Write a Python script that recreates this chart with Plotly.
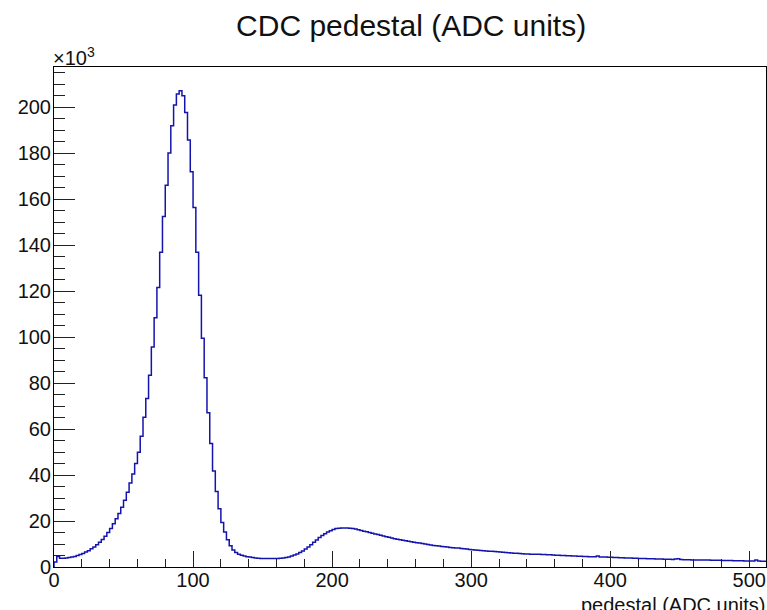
import numpy as np
import plotly.graph_objects as go

# ---- data (counts in thousands, 2-unit bins from 0 to 512) ----
bin_width = 2
x_min = 0
counts_k = [
    2.2, 4.6, 3.8, 3.8, 3.9, 4.1, 4.3, 4.6, 5.0, 5.4,
    5.9, 6.5, 7.1, 7.9, 8.7, 9.7, 10.8, 12.0, 13.4, 15.0,
    16.8, 18.8, 21.0, 23.3, 26.0, 29.0, 32.5, 36.5, 40.5, 45.0,
    49.9, 56.9, 65.2, 73.3, 83.4, 95.7, 108.5, 121.6, 137.0, 152.5,
    166.1, 180.1, 192.0, 201.0, 205.8, 207.2, 205.0, 197.8, 185.8, 172.0,
    156.4, 137.0, 118.2, 99.5, 82.4, 67.1, 53.7, 41.8, 32.9, 25.3,
    19.4, 15.2, 11.9, 9.3, 7.4, 6.3, 5.6, 5.1, 4.8, 4.5,
    4.3, 4.1, 3.9, 3.8, 3.7, 3.7, 3.7, 3.7, 3.7, 3.7,
    3.7, 3.8, 3.9, 4.1, 4.4, 4.8, 5.2, 5.7, 6.3, 7.0,
    7.8, 8.7, 9.7, 10.8, 11.8, 12.8, 13.7, 14.5, 15.2, 15.8,
    16.3, 16.7, 16.9, 17.0, 17.0, 17.0, 16.9, 16.7, 16.5, 16.2,
    15.9, 15.6, 15.3, 15.0, 14.7, 14.4, 14.1, 13.8, 13.5, 13.2,
    12.9, 12.6, 12.3, 12.1, 11.9, 11.6, 11.4, 11.2, 11.0, 10.8,
    10.6, 10.4, 10.2, 10.0, 9.8, 9.6, 9.4, 9.2, 9.1, 8.9,
    8.8, 8.7, 8.5, 8.4, 8.3, 8.3, 8.0, 7.9, 7.8, 7.6,
    7.5, 7.4, 7.3, 7.2, 7.1, 7.0, 6.9, 6.8, 6.7, 6.6,
    6.5, 6.4, 6.3, 6.2, 6.1, 6.0, 6.0, 5.9, 5.8, 5.7,
    5.7, 5.6, 5.6, 5.5, 5.5, 5.4, 5.4, 5.3, 5.3, 5.2,
    5.1, 5.1, 5.0, 5.0, 4.9, 4.9, 4.8, 4.8, 4.7, 4.7,
    4.6, 4.6, 4.5, 4.5, 4.5, 4.8, 4.4, 4.3, 4.3, 4.2,
    4.2, 4.1, 4.1, 4.0, 4.0, 3.9, 3.9, 3.9, 3.8, 3.8,
    3.7, 3.7, 3.7, 3.6, 3.6, 3.6, 3.5, 3.5, 3.5, 3.4,
    3.4, 3.4, 3.3, 3.5, 3.6, 3.3, 3.2, 3.2, 3.2, 3.1,
    3.1, 3.1, 3.0, 3.0, 3.0, 3.0, 2.9, 2.9, 2.9, 2.9,
    2.8, 2.8, 2.8, 2.8, 2.7, 2.7, 2.7, 2.7, 2.6, 2.6,
    2.6, 2.6, 3.0, 2.6, 2.5, 2.5,
]
x_ticks = [0, 100, 200, 300, 400, 500]
y_ticks = [0, 20, 40, 60, 80, 100, 120, 140, 160, 180, 200]
title = "CDC pedestal (ADC units)"
x_title = "pedestal (ADC units)"

n = len(counts_k)
edges = [x_min + i * bin_width for i in range(n + 1)]
x_max = edges[-1]
y_max = max(counts_k) * 1.05

# step outline: start at baseline, go along bins, end at last edge
xs = [edges[0]] + edges
ys = [0] + counts_k + [counts_k[-1]]

fig = go.Figure()
fig.add_trace(go.Scatter(
    x=xs, y=ys, mode="lines", line=dict(shape="hv", color="#1414ad", width=1.5),
    hoverinfo="skip", showlegend=False,
))

font_family = "Liberation Sans, Arial, Helvetica, sans-serif"
txt_color = "#111111"

fig.update_layout(
    width=767, height=610,
    margin=dict(l=54, r=1, t=67, b=43, autoexpand=False),
    paper_bgcolor="white", plot_bgcolor="white",
    font=dict(family=font_family, size=20, color=txt_color),
    title=dict(text=title, x=0.536, xanchor="center", y=0.958, yanchor="middle",
               font=dict(size=30, family=font_family, color=txt_color)),
    showlegend=False,
)

fig.update_xaxes(
    range=[x_min, x_max], showgrid=False, zeroline=False, automargin=False,
    showline=True, linecolor="black", linewidth=1, mirror=True,
    ticks="inside", ticklen=16, tickwidth=1, tickcolor="#222222",
    tickvals=x_ticks, ticktext=[str(v) for v in x_ticks],
    minor=dict(ticks="inside", ticklen=8, tickwidth=1, tickcolor="#222222", dtick=20, tick0=0, showgrid=False),
    tickfont=dict(size=20), ticklabelstandoff=-5,
)
fig.update_yaxes(
    range=[0, y_max], showgrid=False, zeroline=False, automargin=False,
    showline=True, linecolor="black", linewidth=1, mirror=True,
    ticks="inside", ticklen=21, tickwidth=1, tickcolor="#222222",
    tickvals=y_ticks, ticktext=[str(v) for v in y_ticks],
    minor=dict(ticks="inside", ticklen=11, tickwidth=1, tickcolor="#222222", dtick=5, tick0=0, showgrid=False),
    tickfont=dict(size=20), ticklabelstandoff=-2,
)

fig.add_annotation(
    text="×10<sup>3</sup>", xref="paper", yref="paper", x=0, y=1.0,
    xanchor="left", yanchor="bottom", showarrow=False, yshift=-4, xshift=-3,
    font=dict(size=20, family=font_family, color=txt_color),
)
fig.add_annotation(
    text=x_title, xref="paper", yref="paper", x=1.0, y=0,
    xanchor="right", yanchor="top", showarrow=False, yshift=-25, xshift=2,
    font=dict(size=20, family=font_family, color=txt_color),
)

fig.write_html(
    "out.html",
    config={"displayModeBar": False},
    post_script="document.body.style.margin='0';document.body.style.padding='0';document.body.style.overflow='hidden';",
)
